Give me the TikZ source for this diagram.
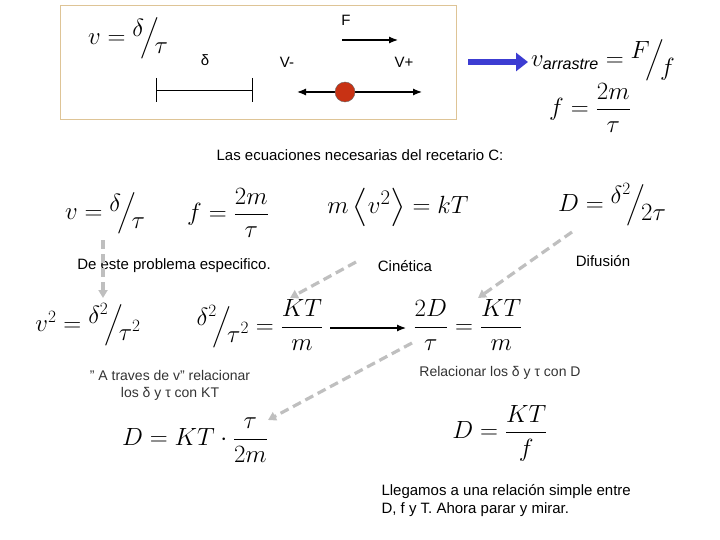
\documentclass[tikz,border=0pt]{standalone}
\usepackage{amsmath,amssymb}
\usepackage{fontspec}
\setmainfont{Liberation Sans}
\usetikzlibrary{arrows.meta}
\newcommand{\sfr}[2]{\raisebox{0.35em}{$#1$}\!\Big/\!\raisebox{-0.4em}{$#2$}}
\begin{document}
\begin{tikzpicture}[x=1pt,y=-1pt,
  txt/.style={font=\fontsize{15}{18}\selectfont},
  small/.style={font=\fontsize{14}{17}\selectfont, text=black!80},
  eq/.style={font=\fontsize{23}{26}\selectfont},
  gdash/.style={draw=black!25, line width=3.2pt, dash pattern=on 9pt off 5pt, -{Triangle[length=8pt,width=9pt]}},
  blk/.style={-{Latex[length=9pt,width=7pt]}, line width=1.2pt}]
\useasboundingbox (0,0) rectangle (720,540);
% top box
\node[draw={rgb,255:red,222;green,196;blue,150}, line width=1pt, minimum width=396pt, minimum height=114pt] (box) at (258,63) {};
\node[eq] (v1) at (128,38) {$v=\sfr{\delta}{\tau}$};
\node[txt] (dl) at (205,60) {δ};
\coordinate (b1) at (156,90); \coordinate (b2) at (252,90);
\draw (b1) -- (b2); \draw (156,78) -- (156,102); \draw (252,78) -- (252,102);
\node[txt] (F) at (346,20) {F};
\coordinate (f1) at (342,40); \coordinate (f2) at (398,40);
\draw[blk] (f1) -- (f2);
\node[txt] (vm) at (287,62) {V-};
\node[txt] (vp) at (404,62) {V+};
\coordinate (l1) at (297,92); \coordinate (l2) at (422,92);
\draw[{Latex[length=9pt,width=7pt]}-{Latex[length=9pt,width=7pt]}, line width=1.2pt] (l1) -- (l2);
\node[circle, fill={rgb,255:red,200;green,50;blue,20}, draw=black!60, minimum width=18pt, minimum height=20pt, inner sep=0pt] (ball) at (345,92) {};
\coordinate (a1) at (468,62); \coordinate (a2) at (528,62);
\draw[line width=6pt, draw={rgb,255:red,60;green,60;blue,210}, -{Triangle[length=12pt,width=18pt]}] (a1) -- (a2);
\node[eq] (varr) at (603,60) {$v_{\mathit{arrastre}}=\sfr{F}{f}$};
\node[eq] (fdef) at (590,108) {$f=\dfrac{2m}{\tau}$};
\node[txt] (title) at (360,155) {Las ecuaciones necesarias del recetario C:};
% row of equations
\node[eq] (v2) at (105,213) {$v=\sfr{\delta}{\tau}$};
\node[eq] (f2e) at (228,213) {$f=\dfrac{2m}{\tau}$};
\node[font=\fontsize{32}{36}\selectfont] (kin) at (398,207) {$m\left\langle v^2\right\rangle=kT$};
\node[eq] (Ddef) at (612,205) {$D=\sfr{\delta^2}{2\tau}$};
\node[txt] (t1) at (174,266) {De este problema especifico.};
\node[txt] (t2) at (405,266) {Cinética};
\node[txt] (t3) at (603,261) {Difusión};
% second row
\node[eq] (v3) at (88,325) {$v^2=\sfr{\delta^2}{\tau^2}$};
\node[eq] (kt) at (260,325) {$\sfr{\delta^2}{\tau^2}=\dfrac{KT}{m}$};
\node[eq] (dt) at (468,325) {$\dfrac{2D}{\tau}=\dfrac{KT}{m}$};
\coordinate (k1) at (330,328); \coordinate (k2) at (406,328);
\draw[blk] (k1) -- (k2);
\node[small, align=center] (t4) at (170,385) {'' A traves de v'' relacionar\\los δ y τ con KT};
\node[small] (t5) at (500,373) {Relacionar los δ y τ con D};
\node[eq] (D1) at (195,440) {$D=KT\cdot\dfrac{\tau}{2m}$};
\node[eq] (D2) at (500,433) {$D=\dfrac{KT}{f}$};
\node[txt, align=left, anchor=west] (t6) at (378,501) {Llegamos a una relación simple entre\\D, f y T.  Ahora parar y mirar.};
% dashed arrows
\draw[gdash] (103,240) -- (103,298);
\draw[gdash] (356,262) -- (290,298);
\draw[gdash] (572,232) -- (478,298);
\draw[gdash] (412,343) -- (268,420);
\end{tikzpicture}
\end{document}
